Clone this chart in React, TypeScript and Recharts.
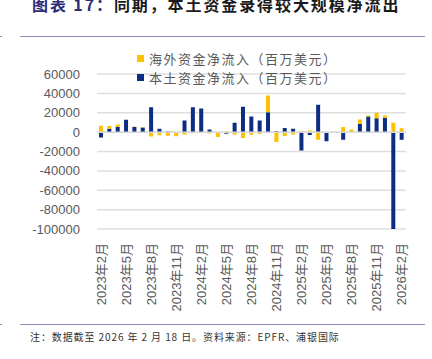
import React from 'react'
import { BarChart, Bar, XAxis, YAxis, CartesianGrid, ReferenceLine } from 'recharts'

const months = [
  '2023年2月', '2023年3月', '2023年4月', '2023年5月', '2023年6月', '2023年7月',
  '2023年8月', '2023年9月', '2023年10月', '2023年11月', '2023年12月', '2024年1月',
  '2024年2月', '2024年3月', '2024年4月', '2024年5月', '2024年6月', '2024年7月',
  '2024年8月', '2024年9月', '2024年10月', '2024年11月', '2024年12月', '2025年1月',
  '2025年2月', '2025年3月', '2025年4月', '2025年5月', '2025年6月', '2025年7月',
  '2025年8月', '2025年9月', '2025年10月', '2025年11月', '2025年12月', '2026年1月',
  '2026年2月',
]

// 海外资金净流入（百万美元）
const overseas = [
  6500, 2800, 2400, 0, 500, 400,
  -4500, -3200, -3800, -3200, -2500, -1200,
  0, -1500, -5000, 600, -2400, -6000,
  -2800, -2000, 17200, -10300, -4100, -2500,
  700, 1600, -7900, 0, 0, 5300,
  2700, 4400, 1000, 5500, 2400, 9800,
  4100,
]

// 本土资金净流入（百万美元）
const domestic = [
  -5500, 3400, 5500, 12700, 5300, 4800,
  25800, 3400, 700, -1000, 12000, 25800,
  24400, 2700, 0, -1600, 9600, 26200,
  16200, 12000, 20600, 800, 4300, 3400,
  -18900, -3000, 28200, -9300, 0, -7900,
  0, 8600, 16200, 14400, 14800, -101500,
  -7900,
]

const yTicks = [-100000, -80000, -60000, -40000, -20000, 0, 20000, 40000, 60000]

const data = months.map((m, i) => ({ month: m, overseas: overseas[i], domestic: domestic[i] }))

const YELLOW = '#FFC000'
const NAVY = '#0C2D82'
const GREY_TEXT = '#595959'

function MonthTick(props: any) {
  const { x, y, payload } = props
  return (
    <text
      x={x}
      y={y + 12}
      transform={`rotate(-90, ${x}, ${y + 12})`}
      textAnchor="end"
      dy="0.36em"
      fill={GREY_TEXT}
      fontSize={13}
      fontFamily="'Liberation Sans', 'Noto Sans CJK SC', sans-serif"
    >
      {payload.value}
    </text>
  )
}

export default function App() {
  return (
    <div style={{ position: 'absolute', left: 0, top: 0, width: 432, height: 359, background: '#fff', overflow: 'hidden' }}>
      {/* 标题 */}
      <div
        style={{
          position: 'absolute',
          left: 32,
          top: -4,
          fontSize: 16,
          lineHeight: '16px',
          fontWeight: 'bold',
          letterSpacing: 1.9,
          whiteSpace: 'nowrap',
          fontFamily: "'Noto Sans CJK SC', sans-serif",
          color: '#1a1a1a',
        }}
      >
        <span style={{ color: '#2A2C78' }}>图表 17：</span>同期，本土资金录得较大规模净流出
      </div>
      <div style={{ position: 'absolute', left: 20, top: 36, width: 405, height: 1, background: '#8C8CC0' }} />
      <div style={{ position: 'absolute', left: 0, top: 36, width: 2, height: 1, background: '#8C8CC0' }} />

      <div style={{ position: 'absolute', left: 0, top: 0 }}>
        <BarChart
          width={432}
          height={359}
          data={data}
          stackOffset="sign"
          barSize={4}
          margin={{ top: 74, right: 26, bottom: 0, left: 0 }}
        >
          <CartesianGrid vertical={false} stroke="#DEDEDE" strokeWidth={1.5} />
          <YAxis
            width={97}
            domain={[-100000, 60000]}
            ticks={yTicks}
            interval={0}
            allowDataOverflow
            axisLine={false}
            tickLine={false}
            tickSize={0}
            tickMargin={17}
            tick={{ fill: GREY_TEXT, fontSize: 13, fontFamily: "'Liberation Sans', sans-serif" }}
          />
          <XAxis
            dataKey="month"
            interval={2}
            height={130}
            axisLine={false}
            tickLine={false}
            tickSize={0}
            tick={<MonthTick />}
          />
          <ReferenceLine y={0} stroke="#D9D9D9" strokeWidth={1.5} />
          <Bar dataKey="domestic" stackId="a" fill={NAVY} isAnimationActive={false} />
          <Bar dataKey="overseas" stackId="a" fill={YELLOW} isAnimationActive={false} />
        </BarChart>
      </div>

      {/* 图例 */}
      <div
        style={{
          position: 'absolute',
          left: 137,
          top: 49,
          fontSize: 13,
          lineHeight: '19px',
          letterSpacing: 1.5,
          color: GREY_TEXT,
          fontFamily: "'Noto Sans CJK SC', sans-serif",
          whiteSpace: 'nowrap',
        }}
      >
        <div style={{ display: 'flex', alignItems: 'center' }}>
          <span style={{ display: 'inline-block', width: 7, height: 7, background: YELLOW, marginRight: 5 }} />
          海外资金净流入（百万美元）
        </div>
        <div style={{ display: 'flex', alignItems: 'center' }}>
          <span style={{ display: 'inline-block', width: 7, height: 7, background: NAVY, marginRight: 5 }} />
          本土资金净流入（百万美元）
        </div>
      </div>

      <div style={{ position: 'absolute', left: 20, top: 324, width: 405, height: 1, background: '#8C8CC0' }} />
      <div style={{ position: 'absolute', left: 0, top: 324, width: 2, height: 1, background: '#8C8CC0' }} />
      {/* 注释 */}
      <div
        style={{
          position: 'absolute',
          left: 30,
          top: 330,
          fontSize: 10,
          lineHeight: '13px',
          letterSpacing: 0.9,
          color: '#333',
          whiteSpace: 'nowrap',
          fontFamily: "'Noto Sans CJK SC', sans-serif",
        }}
      >
        注：数据截至 2026 年 2 月 18 日。资料来源：EPFR、浦银国际
      </div>
    </div>
  )
}
